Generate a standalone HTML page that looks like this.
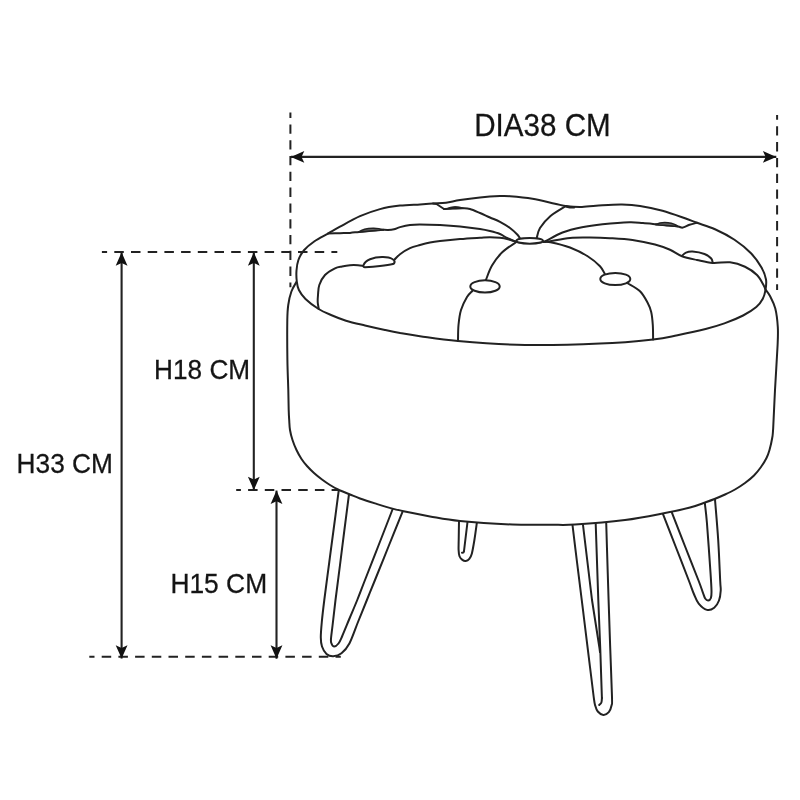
<!DOCTYPE html>
<html><head><meta charset="utf-8"><title>Stool dimensions</title>
<style>
html,body{margin:0;padding:0;background:#fff;}
body{width:800px;height:800px;overflow:hidden;}
svg{display:block;font-family:"Liberation Sans",sans-serif;filter:grayscale(1);}
</style></head><body>
<svg width="800" height="800" viewBox="0 0 800 800">
<rect width="800" height="800" fill="#fff"/>
<path d="M339.80,480.00 C339.62,481.77 339.63,483.10 338.70,490.60 C337.77,498.10 335.77,513.10 334.20,525.00 C332.63,536.90 330.95,549.50 329.30,562.00 C327.65,574.50 325.55,590.00 324.30,600.00 C323.05,610.00 322.38,615.75 321.80,622.00 C321.22,628.25 320.77,633.42 320.80,637.50 C320.83,641.58 321.05,643.75 322.00,646.50 C322.95,649.25 324.62,652.38 326.50,654.00 C328.38,655.62 330.75,656.38 333.25,656.25 C335.75,656.12 338.81,655.38 341.50,653.25 C344.19,651.12 346.65,648.71 349.40,643.50 C352.15,638.29 355.08,629.25 358.00,622.00 C360.92,614.75 364.07,607.00 366.90,600.00 C369.73,593.00 371.37,589.00 375.00,580.00 C378.63,571.00 384.12,557.35 388.70,546.00 C393.28,534.65 399.53,519.23 402.50,511.90 C405.47,504.57 405.83,503.65 406.50,502.00" fill="none" stroke="#222" stroke-width="2.0" stroke-linecap="round" stroke-linejoin="round" />
<path d="M350.70,480.00 C350.40,482.50 349.95,486.67 348.90,495.00 C347.85,503.33 345.88,518.33 344.40,530.00 C342.92,541.67 341.48,553.33 340.00,565.00 C338.52,576.67 336.73,590.00 335.50,600.00 C334.27,610.00 333.33,618.75 332.60,625.00 C331.87,631.25 331.33,634.54 331.10,637.50 C330.87,640.46 330.72,641.25 331.20,642.75 C331.68,644.25 332.78,646.38 334.00,646.50 C335.22,646.62 337.12,645.25 338.50,643.50 C339.88,641.75 340.42,640.17 342.25,636.00 C344.08,631.83 347.00,624.50 349.50,618.50 C352.00,612.50 354.67,606.42 357.25,600.00 C359.83,593.58 361.43,589.17 365.00,580.00 C368.57,570.83 374.12,556.75 378.70,545.00 C383.28,533.25 389.62,517.00 392.50,509.50 C395.38,502.00 395.42,501.58 396.00,500.00" fill="none" stroke="#222" stroke-width="2.0" stroke-linecap="round" stroke-linejoin="round" />
<path d="M459.10,515.00 C459.08,516.04 459.07,517.08 459.00,521.25 C458.93,525.42 458.77,535.21 458.70,540.00 C458.63,544.79 458.47,547.29 458.60,550.00 C458.73,552.71 458.87,554.60 459.50,556.25 C460.13,557.90 461.37,559.11 462.40,559.90 C463.43,560.69 464.55,561.17 465.70,561.00 C466.85,560.83 468.28,560.11 469.30,558.90 C470.32,557.69 470.95,556.90 471.80,553.75 C472.65,550.60 473.55,545.21 474.40,540.00 C475.25,534.79 476.37,526.33 476.90,522.50 C477.43,518.67 477.48,517.92 477.60,517.00" fill="none" stroke="#222" stroke-width="2.0" stroke-linecap="round" stroke-linejoin="round" />
<path d="M468.00,516.00 L467.50,522.00 L464.00,551.00" fill="none" stroke="#222" stroke-width="2.0" stroke-linecap="round" stroke-linejoin="round" />
<path d="M464.00,551.00 C463.92,551.25 463.83,552.22 463.50,552.50 C463.17,552.78 462.25,552.67 462.00,552.70" fill="none" stroke="#222" stroke-width="2.0" stroke-linecap="round" stroke-linejoin="round" />
<path d="M571.50,517.00 C571.67,518.33 571.58,517.50 572.50,525.00 C573.42,532.50 575.46,549.50 577.00,562.00 C578.54,574.50 580.55,590.33 581.75,600.00 C582.95,609.67 582.83,608.83 584.20,620.00 C585.58,631.17 588.42,654.17 590.00,667.00 C591.58,679.83 592.85,690.62 593.70,697.00 C594.55,703.38 594.42,702.88 595.10,705.30 C595.78,707.72 596.43,709.90 597.80,711.50 C599.17,713.10 601.47,714.78 603.30,714.90 C605.13,715.02 607.42,713.80 608.80,712.20 C610.18,710.60 611.07,707.83 611.60,705.30 C612.13,702.77 612.23,706.63 612.00,697.00 C611.77,687.37 610.77,663.67 610.20,647.50 C609.63,631.33 609.07,614.25 608.60,600.00 C608.13,585.75 607.79,574.67 607.40,562.00 C607.01,549.33 606.48,531.50 606.25,524.00 C606.02,516.50 606.04,518.17 606.00,517.00" fill="none" stroke="#222" stroke-width="2.0" stroke-linecap="round" stroke-linejoin="round" />
<path d="M582.00,517.00 L583.00,525.00 L592.00,600.00 L599.40,647.50 L600.00,652.00" fill="none" stroke="#222" stroke-width="2.0" stroke-linecap="round" stroke-linejoin="round" />
<path d="M595.70,517.00 L595.75,525.00 L598.30,600.00 L600.30,650.00 L601.90,698.00" fill="none" stroke="#222" stroke-width="2.0" stroke-linecap="round" stroke-linejoin="round" />
<path d="M601.90,698.00 C601.82,698.75 601.85,701.33 601.40,702.50 C600.95,703.67 599.57,704.58 599.20,705.00" fill="none" stroke="#222" stroke-width="2.0" stroke-linecap="round" stroke-linejoin="round" />
<path d="M660.00,506.50 C660.53,507.85 660.53,507.77 663.20,514.60 C665.87,521.43 671.70,536.43 676.00,547.50 C680.30,558.57 686.02,573.25 689.00,581.00 C691.98,588.75 692.28,590.22 693.90,594.00 C695.52,597.78 696.53,601.05 698.70,603.70 C700.87,606.35 704.32,609.22 706.90,609.90 C709.48,610.58 712.18,609.37 714.20,607.80 C716.22,606.23 717.92,603.35 719.00,600.50 C720.08,597.65 720.50,593.95 720.70,590.70 C720.90,587.45 720.62,589.45 720.20,581.00 C719.78,572.55 719.07,553.58 718.20,540.00 C717.33,526.42 715.65,507.83 715.00,499.50 C714.35,491.17 714.42,491.58 714.30,490.00" fill="none" stroke="#222" stroke-width="2.0" stroke-linecap="round" stroke-linejoin="round" />
<path d="M668.70,504.50 C669.25,505.88 669.23,505.72 672.00,512.80 C674.77,519.88 680.85,535.63 685.30,547.00 C689.75,558.37 695.78,573.45 698.70,581.00 C701.62,588.55 701.72,589.38 702.80,592.30 C703.88,595.22 704.30,597.13 705.20,598.50 C706.10,599.87 707.25,600.58 708.20,600.50 C709.15,600.42 710.35,599.63 710.90,598.00 C711.45,596.37 711.58,595.17 711.50,590.70 C711.42,586.23 711.17,582.57 710.40,571.20 C709.63,559.83 707.82,533.78 706.90,522.50 C705.98,511.22 705.35,508.25 704.90,503.50 C704.45,498.75 704.32,495.58 704.20,494.00" fill="none" stroke="#222" stroke-width="2.0" stroke-linecap="round" stroke-linejoin="round" />
<path d="M296.70,281.50 C295.82,283.17 292.81,287.58 291.40,291.50 C289.99,295.42 288.93,300.25 288.25,305.00 C287.57,309.75 287.44,310.83 287.30,320.00 C287.16,329.17 287.23,348.33 287.40,360.00 C287.57,371.67 288.08,381.67 288.30,390.00 C288.52,398.33 288.55,405.00 288.70,410.00 C288.85,415.00 288.98,416.67 289.20,420.00 C289.42,423.33 289.45,426.67 290.00,430.00 C290.55,433.33 291.42,436.67 292.50,440.00 C293.58,443.33 295.00,446.83 296.50,450.00 C298.00,453.17 299.75,456.33 301.50,459.00 C303.25,461.67 304.92,463.67 307.00,466.00 C309.08,468.33 311.50,470.75 314.00,473.00 C316.50,475.25 319.33,477.50 322.00,479.50 C324.67,481.50 327.33,483.33 330.00,485.00 C332.67,486.67 334.67,487.92 338.00,489.50 C341.33,491.08 346.33,493.00 350.00,494.50 C353.67,496.00 355.83,497.02 360.00,498.50 C364.17,499.98 369.58,501.72 375.00,503.40 C380.42,505.08 386.67,507.07 392.50,508.60 C398.33,510.13 403.75,511.30 410.00,512.60 C416.25,513.90 421.67,515.00 430.00,516.40 C438.33,517.80 446.25,519.65 460.00,521.00 C473.75,522.35 497.50,523.88 512.50,524.50 C527.50,525.12 539.58,524.70 550.00,524.70 C560.42,524.70 562.50,525.28 575.00,524.50 C587.50,523.72 610.00,521.92 625.00,520.00 C640.00,518.08 654.17,515.08 665.00,513.00 C675.83,510.92 683.33,509.25 690.00,507.50 C696.67,505.75 700.92,503.92 705.00,502.50 C709.08,501.08 711.17,500.33 714.50,499.00 C717.83,497.67 721.58,496.08 725.00,494.50 C728.42,492.92 731.67,491.42 735.00,489.50 C738.33,487.58 741.83,485.33 745.00,483.00 C748.17,480.67 751.33,478.17 754.00,475.50 C756.67,472.83 758.92,469.92 761.00,467.00 C763.08,464.08 765.08,460.83 766.50,458.00 C767.92,455.17 768.55,453.33 769.50,450.00 C770.45,446.67 771.58,441.67 772.20,438.00 C772.82,434.33 772.73,436.00 773.20,428.00 C773.67,420.00 774.27,403.83 775.00,390.00 C775.73,376.17 777.13,355.50 777.60,345.00 C778.07,334.50 778.18,333.08 777.80,327.00 C777.42,320.92 776.60,313.67 775.30,308.50 C774.00,303.33 771.63,299.17 770.00,296.00 C768.37,292.83 766.25,290.58 765.50,289.50 L530,260Z" fill="#fff" stroke="#222" stroke-width="2.0" stroke-linecap="round" stroke-linejoin="round" />
<path d="M400.00,205.60 C393.33,206.38 386.67,207.33 380.00,209.10 C373.33,210.87 366.67,213.27 360.00,216.20 C353.33,219.13 345.33,223.80 340.00,226.70 C334.67,229.60 332.25,231.17 328.00,233.60 C323.75,236.03 318.50,238.47 314.50,241.25 C310.50,244.03 306.68,247.12 304.00,250.25 C301.32,253.38 299.65,256.62 298.40,260.00 C297.15,263.38 296.77,266.92 296.50,270.50 C296.23,274.08 296.40,278.25 296.80,281.50 C297.20,284.75 297.45,287.08 298.90,290.00 C300.35,292.92 302.27,295.88 305.50,299.00 C308.73,302.12 314.00,306.08 318.25,308.75 C322.50,311.42 326.38,313.01 331.00,315.00 C335.62,316.99 340.33,318.95 346.00,320.70 C351.67,322.45 358.50,323.95 365.00,325.50 C371.50,327.05 379.17,328.75 385.00,330.00 C390.83,331.25 394.17,331.97 400.00,333.00 C405.83,334.03 410.33,334.87 420.00,336.20 C429.67,337.53 440.50,339.53 458.00,341.00 C475.50,342.47 501.33,344.57 525.00,345.00 C548.67,345.43 578.65,344.53 600.00,343.60 C621.35,342.67 640.18,340.80 653.10,339.40 C666.02,338.00 668.75,336.93 677.50,335.20 C686.25,333.47 697.78,330.97 705.60,329.00 C713.42,327.03 718.15,325.65 724.40,323.40 C730.65,321.15 737.78,318.22 743.10,315.50 C748.42,312.78 753.02,309.89 756.30,307.10 C759.58,304.31 761.27,301.63 762.80,298.75 C764.33,295.87 764.97,293.01 765.50,289.80 C766.03,286.59 766.67,283.22 766.00,279.50 C765.33,275.78 764.00,271.88 761.50,267.50 C759.00,263.12 755.50,257.88 751.00,253.25 C746.50,248.62 740.50,243.75 734.50,239.75 C728.50,235.75 721.25,232.07 715.00,229.25 C708.75,226.43 702.00,224.63 697.00,222.80 C692.00,220.97 690.75,220.26 685.00,218.25 C679.25,216.24 670.00,212.81 662.50,210.75 C655.00,208.69 646.75,206.93 640.00,205.90 C633.25,204.88 628.25,204.70 622.00,204.60 C615.75,204.50 609.17,204.90 602.50,205.30 C595.83,205.70 587.92,206.84 582.00,207.00 C576.08,207.16 571.50,206.80 567.00,206.25 C562.50,205.70 560.75,204.95 555.00,203.70 C549.25,202.45 540.00,200.00 532.50,198.75 C525.00,197.50 515.42,196.64 510.00,196.20 C504.58,195.76 505.00,195.88 500.00,196.10 C495.00,196.32 486.67,196.85 480.00,197.50 C473.33,198.15 465.67,199.12 460.00,200.00 C454.33,200.88 450.50,202.22 446.00,202.80 C441.50,203.38 437.33,203.23 433.00,203.50 C428.67,203.77 425.50,204.05 420.00,204.40 C414.50,204.75 406.67,204.82 400.00,205.60Z" fill="#fff" stroke="#222" stroke-width="2.0" stroke-linecap="round" stroke-linejoin="round" />
<path d="M328.00,233.60 C330.00,233.53 336.33,233.32 340.00,233.20 C343.67,233.08 346.83,233.12 350.00,232.90 C353.17,232.68 355.50,232.25 359.00,231.90 C362.50,231.55 366.97,231.15 371.00,230.80 C375.03,230.45 381.17,229.97 383.20,229.80" fill="none" stroke="#222" stroke-width="2.0" stroke-linecap="round" stroke-linejoin="round" />
<path d="M383.20,229.80 C384.00,229.83 386.20,230.08 388.00,230.00 C389.80,229.92 392.00,229.78 394.00,229.30 C396.00,228.82 397.33,227.83 400.00,227.10 C402.67,226.37 406.67,225.35 410.00,224.90 C413.33,224.45 415.00,224.38 420.00,224.40 C425.00,224.42 433.33,224.65 440.00,225.00 C446.67,225.35 453.33,225.83 460.00,226.50 C466.67,227.17 475.00,228.25 480.00,229.00 C485.00,229.75 486.67,230.17 490.00,231.00 C493.33,231.83 497.17,232.83 500.00,234.00 C502.83,235.17 504.46,236.75 507.00,238.00 C509.54,239.25 513.88,240.92 515.25,241.50" fill="none" stroke="#222" stroke-width="2.0" stroke-linecap="round" stroke-linejoin="round" />
<path d="M359,231.9 C362,229.6 367,228.5 373,228.3 C378,228.2 381,229 383.2,229.8 Z" fill="#666" stroke="#222" stroke-width="1.5" stroke-linecap="round" stroke-linejoin="round" />
<path d="M318.70,308.75 C318.53,307.62 317.82,304.29 317.70,302.00 C317.58,299.71 317.73,297.83 318.00,295.00 C318.27,292.17 318.13,288.33 319.30,285.00 C320.47,281.67 322.38,277.78 325.00,275.00 C327.62,272.22 332.17,269.73 335.00,268.30 C337.83,266.87 339.50,266.92 342.00,266.40 C344.50,265.88 347.33,265.40 350.00,265.20 C352.67,265.00 355.78,265.07 358.00,265.20 C360.22,265.33 362.42,265.87 363.30,266.00" fill="none" stroke="#222" stroke-width="2.0" stroke-linecap="round" stroke-linejoin="round" />
<path d="M394.60,259.50 C395.50,258.62 397.43,256.08 400.00,254.20 C402.57,252.32 406.67,249.73 410.00,248.20 C413.33,246.67 416.67,245.95 420.00,245.00 C423.33,244.05 426.67,243.17 430.00,242.50 C433.33,241.83 435.00,241.58 440.00,241.00 C445.00,240.42 453.33,239.55 460.00,239.00 C466.67,238.45 475.00,238.00 480.00,237.70 C485.00,237.40 486.67,237.18 490.00,237.20 C493.33,237.22 497.00,237.47 500.00,237.80 C503.00,238.13 505.46,238.58 508.00,239.20 C510.54,239.82 514.04,241.12 515.25,241.50" fill="none" stroke="#222" stroke-width="2.0" stroke-linecap="round" stroke-linejoin="round" />
<path d="M433.00,203.50 L436.50,204.00 L444.00,209.00" fill="none" stroke="#222" stroke-width="2.0" stroke-linecap="round" stroke-linejoin="round" />
<path d="M444.00,209.00 C445.00,208.95 446.83,208.82 450.00,208.70 C453.17,208.58 459.67,208.25 463.00,208.30 C466.33,208.35 467.17,208.22 470.00,209.00 C472.83,209.78 476.67,211.58 480.00,213.00 C483.33,214.42 486.67,216.03 490.00,217.50 C493.33,218.97 496.67,220.05 500.00,221.80 C503.33,223.55 507.08,225.84 510.00,228.00 C512.92,230.16 515.75,232.88 517.50,234.75 C519.25,236.62 520.00,238.50 520.50,239.25" fill="none" stroke="#222" stroke-width="2.0" stroke-linecap="round" stroke-linejoin="round" />
<path d="M446,208.8 Q455,204.6 464,208.3 Z" fill="#222" stroke="#222" stroke-width="1" stroke-linecap="round" stroke-linejoin="round" />
<path d="M516.00,242.25 C513.75,243.88 506.50,248.12 502.50,252.00 C498.50,255.88 494.75,260.88 492.00,265.50 C489.25,270.12 487.00,277.38 486.00,279.75" fill="none" stroke="#222" stroke-width="2.0" stroke-linecap="round" stroke-linejoin="round" />
<path d="M472.25,291.00 C471.38,292.00 468.88,293.83 467.00,297.00 C465.12,300.17 462.42,305.33 461.00,310.00 C459.58,314.67 459.00,319.83 458.50,325.00 C458.00,330.17 458.08,338.33 458.00,341.00" fill="none" stroke="#222" stroke-width="2.0" stroke-linecap="round" stroke-linejoin="round" />
<path d="M536.70,238.20 C537.25,236.50 537.70,231.70 540.00,228.00 C542.30,224.30 546.25,219.62 550.50,216.00 C554.75,212.38 563.00,207.88 565.50,206.25" fill="none" stroke="#222" stroke-width="2.0" stroke-linecap="round" stroke-linejoin="round" />
<path d="M566.00,206.30 C566.67,206.45 568.67,207.03 570.00,207.20 C571.33,207.37 573.33,207.28 574.00,207.30" fill="none" stroke="#222" stroke-width="2.6" stroke-linecap="round" stroke-linejoin="round" />
<path d="M543.50,241.60 C543.92,241.50 542.83,242.52 546.00,241.00 C549.17,239.48 556.50,234.79 562.50,232.50 C568.50,230.21 575.33,228.62 582.00,227.25 C588.67,225.88 594.58,225.09 602.50,224.25 C610.42,223.41 622.75,222.39 629.50,222.20 C636.25,222.01 638.58,222.77 643.00,223.10 C647.42,223.43 653.83,224.02 656.00,224.20" fill="none" stroke="#222" stroke-width="2.0" stroke-linecap="round" stroke-linejoin="round" />
<path d="M656.00,224.50 C657.83,224.65 663.33,225.07 667.00,225.40 C670.67,225.73 675.38,226.13 678.00,226.50 C680.62,226.87 680.83,227.89 682.75,227.60 C684.67,227.31 687.12,225.55 689.50,224.75 C691.88,223.95 695.75,223.12 697.00,222.80" fill="none" stroke="#222" stroke-width="2.0" stroke-linecap="round" stroke-linejoin="round" />
<path d="M656,224.5 C659,222.8 664,222.3 668,222.7 C672,223.2 676,224.6 678,226.5 Z" fill="#666" stroke="#222" stroke-width="1.5" stroke-linecap="round" stroke-linejoin="round" />
<path d="M543.50,241.80 C544.42,241.75 544.58,242.13 549.00,241.50 C553.42,240.87 563.17,238.65 570.00,238.00 C576.83,237.35 583.33,237.57 590.00,237.60 C596.67,237.63 602.92,237.80 610.00,238.20 C617.08,238.60 625.00,238.95 632.50,240.00 C640.00,241.05 648.75,242.88 655.00,244.50 C661.25,246.12 665.50,247.80 670.00,249.75 C674.50,251.70 677.50,254.49 682.00,256.20 C686.50,257.91 691.88,258.87 697.00,260.00 C702.12,261.13 707.25,262.62 712.75,263.00 C718.25,263.38 724.62,261.62 730.00,262.25 C735.38,262.88 740.50,264.62 745.00,266.75 C749.50,268.88 753.88,271.88 757.00,275.00 C760.12,278.12 762.33,283.00 763.75,285.50 C765.17,288.00 765.21,289.25 765.50,290.00" fill="none" stroke="#222" stroke-width="2.0" stroke-linecap="round" stroke-linejoin="round" />
<path d="M682.00,255.80 C682.67,255.27 684.25,253.30 686.00,252.60 C687.75,251.90 689.42,251.37 692.50,251.60 C695.58,251.83 701.38,252.85 704.50,254.00 C707.62,255.15 709.88,257.00 711.25,258.50 C712.62,260.00 712.50,262.25 712.75,263.00" fill="none" stroke="#222" stroke-width="2.0" stroke-linecap="round" stroke-linejoin="round" />
<path d="M543.50,242.00 C544.67,242.03 546.08,241.28 550.50,242.20 C554.92,243.12 563.75,245.12 570.00,247.50 C576.25,249.88 583.00,253.38 588.00,256.50 C593.00,259.62 597.21,263.38 600.00,266.25 C602.79,269.12 603.96,272.50 604.75,273.75" fill="none" stroke="#222" stroke-width="2.0" stroke-linecap="round" stroke-linejoin="round" />
<path d="M628.00,283.50 C630.00,284.78 636.75,288.03 640.00,291.20 C643.25,294.37 645.63,299.03 647.50,302.50 C649.37,305.97 650.32,308.25 651.20,312.00 C652.08,315.75 652.48,320.43 652.80,325.00 C653.12,329.57 653.05,337.00 653.10,339.40" fill="none" stroke="#222" stroke-width="2.0" stroke-linecap="round" stroke-linejoin="round" />
<path d="M363.5,265.2 C364.5,262.3 367,260.3 370,259.2 C374,257.8 378,257.2 382,257.1 C386,257 390,257.6 392.3,259 C394.3,260.2 395,261.6 394.4,262.7 C394,263.5 393.5,263.9 393,264.1 C389,264.9 385,265.4 380,266 C375,266.6 370,267 365,267.3 C363.6,267.2 363.1,266.2 363.5,265.2Z" fill="#fff" stroke="#222" stroke-width="2.0" stroke-linecap="round" stroke-linejoin="round" />
<ellipse cx="485" cy="286.4" rx="14.7" ry="6.1" fill="#fff" stroke="#222" stroke-width="2.0" transform="rotate(0 485 286.4)"/>
<ellipse cx="615.3" cy="279" rx="15" ry="6.1" fill="#fff" stroke="#222" stroke-width="2.0" transform="rotate(0 615.3 279)"/>
<ellipse cx="529.7" cy="240.8" rx="13.3" ry="2.9" fill="#fff" stroke="#222" stroke-width="2.0" transform="rotate(0 529.7 240.8)"/>
<line x1="290.4" y1="112.5" x2="290.4" y2="287.2" stroke="#222" stroke-width="2" stroke-dasharray="9.3 6.5" stroke-dashoffset="3.9"/>
<line x1="777.1" y1="115" x2="777.1" y2="290" stroke="#222" stroke-width="2" stroke-dasharray="9.3 6.5" stroke-dashoffset="4.5"/>
<line x1="101.9" y1="252.1" x2="337.3" y2="252.1" stroke="#222" stroke-width="2" stroke-dasharray="9.5 7.2" stroke-dashoffset="4.3"/>
<line x1="236.2" y1="490.05" x2="339" y2="490.05" stroke="#222" stroke-width="2" stroke-dasharray="9.5 7.2" stroke-dashoffset="4.8"/>
<line x1="89.3" y1="656.65" x2="340.8" y2="656.65" stroke="#222" stroke-width="2" stroke-dasharray="9.5 7.2" stroke-dashoffset="4.3"/>
<line x1="290.9" y1="156.9" x2="776.3" y2="156.9" stroke="#222" stroke-width="2.1"/>
<polygon points="290.90,156.90 304.30,162.80 301.50,156.90 304.30,151.00" fill="#111"/>
<polygon points="776.30,156.90 762.90,151.00 765.70,156.90 762.90,162.80" fill="#111"/>
<line x1="121.6" y1="252.3" x2="121.6" y2="658.6" stroke="#222" stroke-width="2.1"/>
<polygon points="121.60,252.30 115.70,265.70 121.60,262.90 127.50,265.70" fill="#111"/>
<polygon points="121.60,658.60 127.50,645.20 121.60,648.00 115.70,645.20" fill="#111"/>
<line x1="253.8" y1="252.3" x2="253.8" y2="490.1" stroke="#222" stroke-width="2.1"/>
<polygon points="253.80,252.30 247.90,265.70 253.80,262.90 259.70,265.70" fill="#111"/>
<polygon points="253.80,490.10 259.70,476.70 253.80,479.50 247.90,476.70" fill="#111"/>
<line x1="276.5" y1="490.6" x2="276.5" y2="658.7" stroke="#222" stroke-width="2.1"/>
<polygon points="276.50,490.60 270.60,504.00 276.50,501.20 282.40,504.00" fill="#111"/>
<polygon points="276.50,658.70 282.40,645.30 276.50,648.10 270.60,645.30" fill="#111"/>
<text transform="translate(474.2 136.0) scale(1.021 1.065)" font-size="29" fill="#141414" stroke="#141414" stroke-width="0.25">DIA38 CM</text>
<text transform="translate(154.1 379.05) scale(1.008 1.065)" font-size="26" fill="#141414" stroke="#141414" stroke-width="0.25">H18 CM</text>
<text transform="translate(16.6 473.05) scale(1.011 1.065)" font-size="26" fill="#141414" stroke="#141414" stroke-width="0.25">H33 CM</text>
<text transform="translate(170.4 592.6) scale(1.015 1.065)" font-size="26" fill="#141414" stroke="#141414" stroke-width="0.25">H15 CM</text>
</svg>
</body></html>
